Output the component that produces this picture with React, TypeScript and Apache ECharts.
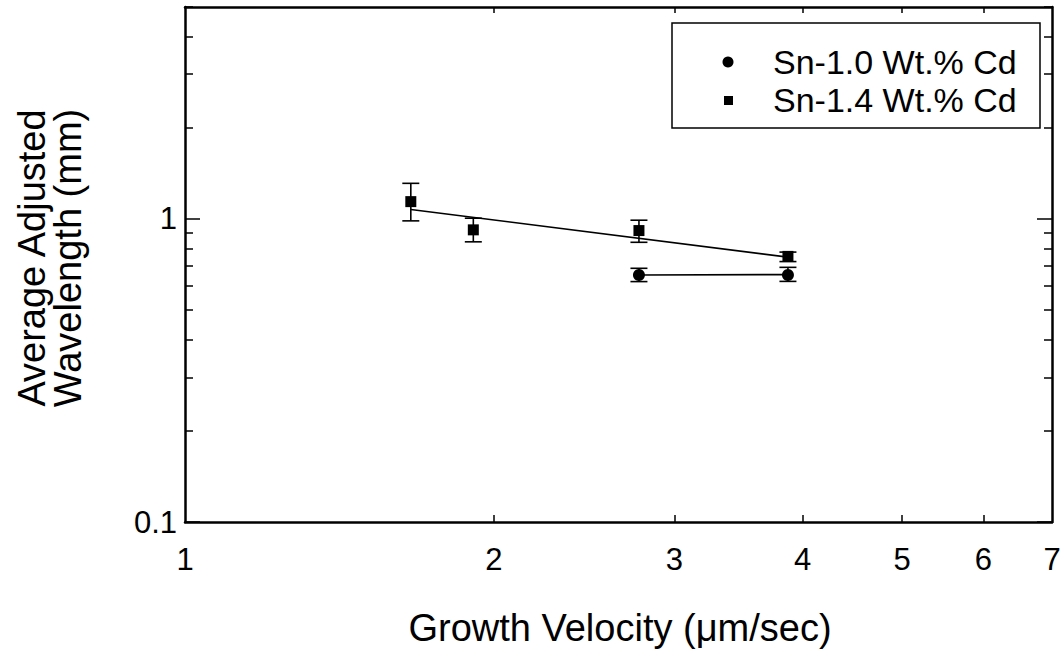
import React, { useEffect, useRef } from "react";
import * as echarts from "echarts";

// Axis tick values (data space)
const X_TICK_LABELS = [1, 2, 3, 4, 5, 6, 7];
const X_TICKS = [2, 3, 4, 5, 6];
const Y_MAJOR = [0.1, 1];
const Y_MINOR = [0.2, 0.3, 0.4, 0.5, 0.6, 0.7, 0.8, 0.9, 2, 3, 4, 5];
const X_MIN = 1;
const X_MAX = 7;
const Y_MIN = 0.1;
const Y_MAX = 5;

// Sn-1.4 Wt.% Cd (squares)
const SQ_X = [1.66, 1.91, 2.77, 3.87];
const SQ_Y = [1.14, 0.92, 0.915, 0.752];
const SQ_LO = [0.985, 0.84, 0.837, 0.723];
const SQ_HI = [1.31, 1.005, 0.99, 0.777];
const SQ_FIT_X = [1.66, 3.87];
const SQ_FIT_Y = [1.074, 0.748];

// Sn-1.0 Wt.% Cd (circles)
const CI_X = [2.77, 3.87];
const CI_Y = [0.653, 0.653];
const CI_LO = [0.621, 0.622];
const CI_HI = [0.687, 0.692];
const CI_FIT_X = [2.77, 3.87];
const CI_FIT_Y = [0.653, 0.655];

const L = Math.log10;
const FONT = "'Liberation Sans', Arial, Helvetica, sans-serif";

const fmt = (v: number) => {
  const val = Math.pow(10, v);
  return String(Number(val.toPrecision(2)));
};

const errRender = (params: any, api: any) => {
  const x = api.value(0);
  const lo = api.coord([x, api.value(1)]);
  const hi = api.coord([x, api.value(2)]);
  const hw = 8.5;
  const st = { stroke: "#000", lineWidth: 1.6 };
  return {
    type: "group",
    children: [
      { type: "line", shape: { x1: lo[0], y1: lo[1], x2: hi[0], y2: hi[1] }, style: st },
      { type: "line", shape: { x1: lo[0] - hw, y1: lo[1], x2: lo[0] + hw, y2: lo[1] }, style: st },
      { type: "line", shape: { x1: hi[0] - hw, y1: hi[1], x2: hi[0] + hw, y2: hi[1] }, style: st },
    ],
  };
};

export default function App() {
  const ref = useRef<HTMLDivElement>(null);
  useEffect(() => {
    if (!ref.current) return;
    const chart = echarts.init(ref.current, undefined, { renderer: "svg" });
    const axisLine = { show: true, onZero: false, lineStyle: { color: "#000", width: 2.5 } };
    const noLine = { show: false, onZero: false };
    const yBase = { type: "value", min: L(Y_MIN), max: L(Y_MAX), splitLine: { show: false } };
    const xBase = { type: "value", min: L(X_MIN), max: L(X_MAX), splitLine: { show: false } };
    const tickStyle = { color: "#000", width: 1.5 };
    const option: any = {
      animation: false,
      backgroundColor: "#fff",
      grid: { left: 185, right: 12, top: 7, bottom: 129, containLabel: false },
      xAxis: [
        {
          ...xBase,
          position: "bottom",
          axisLine,
          axisTick: { show: true, inside: true, length: 7, lineStyle: tickStyle, customValues: X_TICKS.map(L) },
          axisLabel: {
            show: true,
            customValues: X_TICK_LABELS.map(L),
            formatter: fmt,
            color: "#000",
            fontFamily: FONT,
            fontSize: 31,
            margin: 22,
          },
        },
        {
          ...xBase,
          position: "top",
          axisLine,
          axisTick: { show: true, inside: true, length: 6, lineStyle: tickStyle, customValues: X_TICKS.map(L) },
          axisLabel: { show: false },
        },
      ],
      yAxis: [
        {
          ...yBase,
          position: "left",
          axisLine,
          axisTick: { show: true, inside: true, length: 15, lineStyle: tickStyle, customValues: Y_MAJOR.map(L) },
          axisLabel: {
            show: true,
            customValues: Y_MAJOR.map(L),
            formatter: fmt,
            color: "#000",
            fontFamily: FONT,
            fontSize: 31,
            margin: 8,
          },
        },
        {
          ...yBase,
          position: "left",
          axisLine: noLine,
          axisTick: { show: true, inside: true, length: 8, lineStyle: tickStyle, customValues: Y_MINOR.map(L) },
          axisLabel: { show: false },
        },
        {
          ...yBase,
          position: "right",
          axisLine,
          axisTick: { show: true, inside: true, length: 15, lineStyle: tickStyle, customValues: Y_MAJOR.map(L) },
          axisLabel: { show: false },
        },
        {
          ...yBase,
          position: "right",
          axisLine: noLine,
          axisTick: { show: true, inside: true, length: 8, lineStyle: tickStyle, customValues: Y_MINOR.map(L) },
          axisLabel: { show: false },
        },
      ],
      series: [
        {
          name: "Sn-1.4 fit",
          type: "line",
          data: SQ_FIT_X.map((x, i) => [L(x), L(SQ_FIT_Y[i])]),
          symbol: "none",
          lineStyle: { color: "#000", width: 1.6 },
          z: 2,
        },
        {
          name: "Sn-1.0 fit",
          type: "line",
          data: CI_FIT_X.map((x, i) => [L(x), L(CI_FIT_Y[i])]),
          symbol: "none",
          lineStyle: { color: "#000", width: 1.6 },
          z: 2,
        },
        {
          name: "Sn-1.4 err",
          type: "custom",
          renderItem: errRender,
          data: SQ_X.map((x, i) => [L(x), L(SQ_LO[i]), L(SQ_HI[i])]),
          z: 3,
        },
        {
          name: "Sn-1.0 err",
          type: "custom",
          renderItem: errRender,
          data: CI_X.map((x, i) => [L(x), L(CI_LO[i]), L(CI_HI[i])]),
          z: 3,
        },
        {
          name: "Sn-1.4 Wt.% Cd",
          type: "scatter",
          symbol: "rect",
          symbolSize: 11,
          itemStyle: { color: "#000", opacity: 1 },
          data: SQ_X.map((x, i) => [L(x), L(SQ_Y[i])]),
          z: 4,
        },
        {
          name: "Sn-1.0 Wt.% Cd",
          type: "scatter",
          symbol: "circle",
          symbolSize: 12,
          itemStyle: { color: "#000", opacity: 1 },
          data: CI_X.map((x, i) => [L(x), L(CI_Y[i])]),
          z: 4,
        },
      ],
      graphic: [
        {
          type: "rect",
          shape: { x: 672, y: 23, width: 368, height: 105 },
          style: { fill: "#fff", stroke: "#000", lineWidth: 1.5 },
          z: 10,
        },
        { type: "circle", shape: { cx: 728, cy: 62, r: 5.5 }, style: { fill: "#000" }, z: 11 },
        { type: "rect", shape: { x: 724, y: 96, width: 9, height: 9 }, style: { fill: "#000" }, z: 11 },
        {
          type: "text",
          x: 773,
          y: 62,
          style: { text: "Sn-1.0 Wt.% Cd", fill: "#000", font: `34px ${FONT}`, textVerticalAlign: "middle" },
          z: 11,
        },
        {
          type: "text",
          x: 773,
          y: 100,
          style: { text: "Sn-1.4 Wt.% Cd", fill: "#000", font: `34px ${FONT}`, textVerticalAlign: "middle" },
          z: 11,
        },
        {
          type: "text",
          x: 620,
          y: 628,
          style: {
            text: "Growth Velocity (\u03bcm/sec)",
            fill: "#000",
            font: `38px ${FONT}`,
            textAlign: "center",
            textVerticalAlign: "middle",
          },
        },
        {
          type: "text",
          x: 50,
          y: 258,
          rotation: Math.PI / 2,
          style: {
            text: "Average Adjusted\nWavelength (mm)",
            fill: "#000",
            font: `38px ${FONT}`,
            lineHeight: 36,
            textAlign: "center",
            textVerticalAlign: "middle",
          },
        },
      ],
    };
    chart.setOption(option);
    return () => chart.dispose();
  }, []);
  return (
    <div
      ref={ref}
      style={{ position: "fixed", left: 0, top: 0, width: 1064, height: 651, background: "#fff" }}
    />
  );
}
